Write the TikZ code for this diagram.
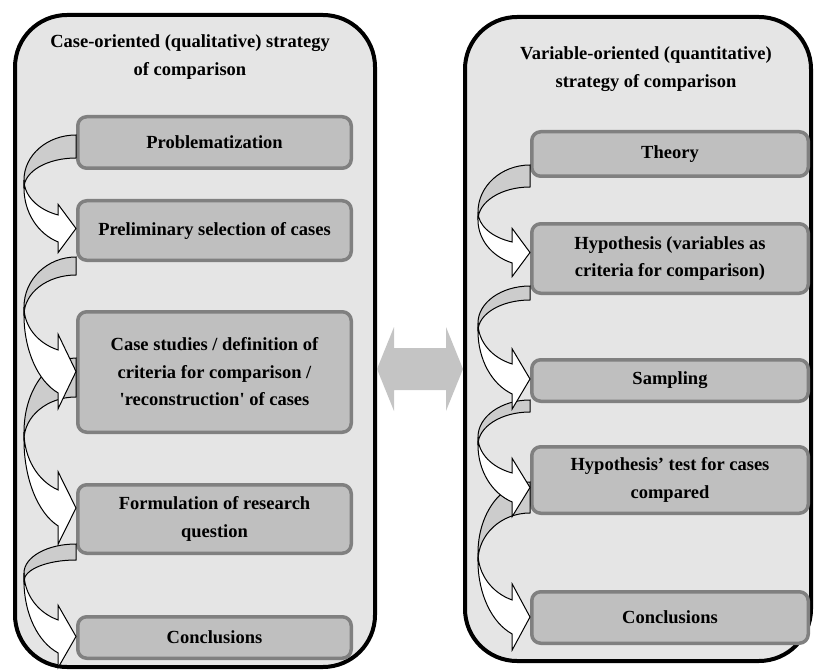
\documentclass[tikz,border=0pt]{standalone}
\usepackage{fontspec}
\setmainfont{Liberation Serif}
\usetikzlibrary{calc}

\newcommand{\stepfont}{\fontsize{18.5}{27.5}\selectfont\bfseries}
\newcommand{\bendrx}{52}
% source/target/tail top/tail bottom/turn/head band top/head band bottom/half head
\newcommand{\bendlist}{prob/prel/135/158/180/215/242/24, prel/cstu/257/275/307/350/393/37,
  cstu/form/358/397/432/490/526/36, form/ccon/544/560/573/620/653/31,
  theo/hypo/165/187/212/242/263/24, hypo/samp/286/300/323/364/394/30,
  samp/test/400/412/437/473/502/29, test/vcon/482/513/553/600/634/33}

\tikzset{
  panel/.style={draw=black, line width=4pt, fill=black!10, rounded corners=52pt, inner sep=0pt},
  paneltitle/.style={align=center, font=\stepfont, inner sep=0pt},
  stepbox/.style={draw=black!50, line width=3.5pt, fill=black!25, rounded corners=9pt,
    align=center, font=\stepfont, inner sep=0pt},
  casestep/.style={stepbox, minimum width=273.5pt},
  varstep/.style={stepbox, minimum width=276.5pt},
  bentback/.style={draw=black, line width=1pt, fill=black!20},
  bentfront/.style={draw=black, line width=1pt, fill=white},
  linkarrow/.style={fill=black!23}
}

\begin{document}
\begin{tikzpicture}[x=1pt, y=1pt]
    \useasboundingbox (0,0) rectangle (816,-671);
    \node[panel, minimum width=360pt, minimum height=652pt] (casepanel) at (195,-341) {};
    \node[panel, minimum width=346pt, minimum height=644pt] (varpanel) at (638,-339) {};
    \node[paneltitle] (casetitle) at (190,-57) {Case-oriented (qualitative) strategy\\of comparison};
    \node[paneltitle] (vartitle) at (646,-69) {Variable-oriented (quantitative)\\strategy of comparison};

    \fill[linkarrow] (casepanel.east |- 0,-369) -- ++(17,42) -- ++(0,-21) -- ++(52,0) -- ++(0,21)
        -- (varpanel.west |- 0,-369) -- ++(-17,-42) -- ++(0,21) -- ++(-52,0) -- ++(0,-21) -- cycle;

    % case-oriented steps
    \node[casestep, minimum height=51.5pt] (prob) at (214.5,-142.5) {Problematization};
    \node[casestep, minimum height=59.5pt] (prel) at (214.5,-230.5) {Preliminary selection of cases};
    \node[casestep, minimum height=120.5pt] (cstu) at (214.5,-372) {Case studies / definition of\\criteria for comparison /\\\textquotesingle reconstruction\textquotesingle{} of cases};
    \node[casestep, minimum height=68.5pt] (form) at (214.5,-519) {Formulation of research\\question};
    \node[casestep, minimum height=41.5pt] (ccon) at (214.5,-637.5) {Conclusions};

    % variable-oriented steps
    \node[varstep, minimum height=44.5pt] (theo) at (670,-154) {Theory};
    \node[varstep, minimum height=69.5pt] (hypo) at (670,-258.5) {Hypothesis (variables as\\criteria for comparison)};
    \node[varstep, minimum height=41.5pt] (samp) at (670,-380.5) {Sampling};
    \node[varstep, minimum height=66.5pt] (test) at (670,-480) {Hypothesis’ test for cases\\compared};
    \node[varstep, minimum height=51.5pt] (vcon) at (670,-617.5) {Conclusions};

    % bent arrows, backs first
    \foreach \src/\dst/\ta/\tb/\turn/\pa/\pb/\hh in \bendlist {
        \draw[bentback] (\src.west |- 0,-\ta) arc[start angle=90, end angle=180, x radius=\bendrx, y radius=\turn-\ta]
            -- ++(0,-8) arc[start angle=180, end angle=90, x radius=\bendrx, y radius=\turn+8-\tb] -- cycle;
    }
    \foreach \src/\dst/\ta/\tb/\turn/\pa/\pb/\hh in \bendlist {
        \pgfmathsetmacro{\tipy}{-(\pa+\pb)/2}
        \pgfmathsetmacro{\barb}{\hh-(\pb-\pa)/2}
        \pgfmathsetmacro{\rya}{(\pa-\turn)/0.9397}
        \pgfmathsetmacro{\ryb}{(\pb-\turn-8)/0.9397}
        \draw[bentfront] ($(\src.west |- 0,-\turn)+(-\bendrx,0)$)
            arc[start angle=180, end angle=250, x radius=\bendrx, y radius=\rya]
            -- ++(0,\barb) -- (\dst.west |- 0,\tipy) -- ++(-17.8,-\hh) -- ++(0,\barb)
            arc[start angle=250, end angle=180, x radius=\bendrx, y radius=\ryb] -- cycle;
    }
\end{tikzpicture}
\end{document}
